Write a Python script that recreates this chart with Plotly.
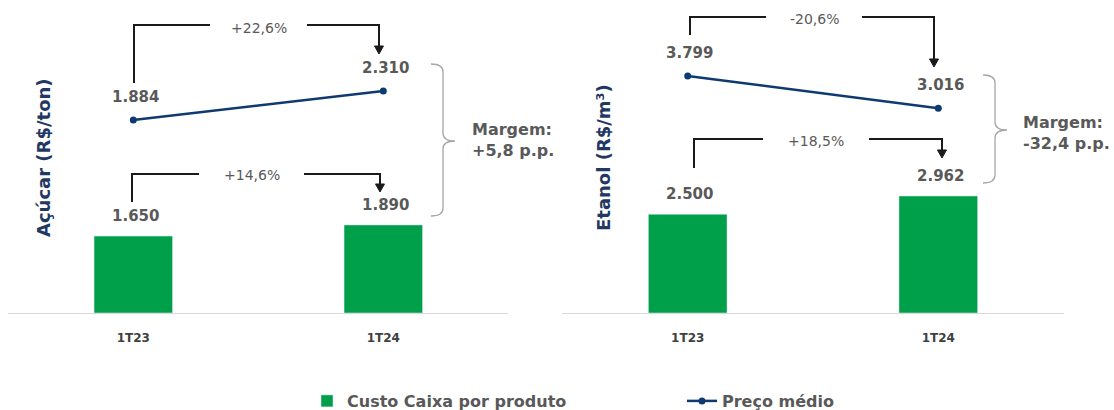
import plotly.graph_objects as go

# ---- data ----
periods = ["1T23", "1T24"]
acucar_custo = [1650, 1890]
acucar_preco = [1884, 2310]
etanol_custo = [2500, 2962]
etanol_preco = [3799, 3016]

acucar_var_preco = "+22,6%"
acucar_var_custo = "+14,6%"
etanol_var_preco = "-20,6%"
etanol_var_custo = "+18,5%"
acucar_margem = "Margem:<br>+5,8 p.p."
etanol_margem = "Margem:<br>-32,4 p.p."

titulo_acucar = "Açúcar (R$/ton)"
titulo_etanol = "Etanol (R$/m³)"
legenda_custo = "Custo Caixa por produto"
legenda_preco = "Preço médio"

# ---- styling ----
W, H = 1114, 410
FONT = "DejaVu Sans"
GREEN = "#00A04A"
NAVY = "#0E3A70"
GRAY_TXT = "#595959"
AXIS_TITLE = "#1F3864"
BRACKET = "#1A1A1A"
BRACE = "#A6A6A6"


def px(x):
    return x / W


def py(y):
    return 1 - y / H


def fmt(v):
    return f"{v:,}".replace(",", ".")


def path(points):
    cmds = []
    for i, (x, y) in enumerate(points):
        cmds.append(("M" if i == 0 else "L") + f"{px(x):.5f},{py(y):.5f}")
    return " ".join(cmds)


fig = go.Figure()

# left panel: sugar
fig.add_trace(go.Bar(x=periods, y=acucar_custo, marker_color=GREEN, width=0.314,
                     name=legenda_custo, xaxis="x", yaxis="y", legendrank=1))
fig.add_trace(go.Scatter(x=periods, y=acucar_preco, mode="lines+markers",
                         line=dict(color=NAVY, width=2.5), marker=dict(size=7, color=NAVY),
                         name=legenda_preco, xaxis="x", yaxis="y2", legendrank=2))
# right panel: ethanol
fig.add_trace(go.Bar(x=periods, y=etanol_custo, marker_color=GREEN, width=0.314,
                     name=legenda_custo, xaxis="x2", yaxis="y3", showlegend=False))
fig.add_trace(go.Scatter(x=periods, y=etanol_preco, mode="lines+markers",
                         line=dict(color=NAVY, width=2.5), marker=dict(size=7, color=NAVY),
                         name=legenda_preco, xaxis="x2", yaxis="y4", showlegend=False))

ydom = [py(313), 1]
hidden_y = dict(visible=False, showgrid=False, zeroline=False, fixedrange=True)
xcommon = dict(type="category", range=[-0.5, 1.5], showgrid=False, zeroline=False,
               showline=True, linecolor="#D9D9D9", linewidth=1, ticks="",
               tickfont=dict(family=FONT, size=12, color="#404040", weight="bold"),
               ticklabelstandoff=14)

fig.update_layout(
    width=W, height=H,
    margin=dict(l=0, r=0, t=0, b=0, autoexpand=False),
    paper_bgcolor="white", plot_bgcolor="white",
    font=dict(family=FONT, color=GRAY_TXT),
    barmode="overlay",
    xaxis=dict(xcommon, domain=[px(8.3), px(508.3)], anchor="y"),
    xaxis2=dict(xcommon, domain=[px(562.4), px(1063.6)], anchor="y3"),
    yaxis=dict(hidden_y, domain=ydom, range=[0, 6717], anchor="x"),
    yaxis2=dict(hidden_y, domain=ydom, range=[-950, 3646], overlaying="y", anchor="x"),
    yaxis3=dict(hidden_y, domain=ydom, range=[0, 7924], anchor="x2"),
    yaxis4=dict(hidden_y, domain=ydom, range=[-1947, 5641], overlaying="y3", anchor="x2"),
    legend=dict(orientation="h", x=px(307), y=py(401), xanchor="left", yanchor="middle",
                entrywidth=330, font=dict(family=FONT, size=16, color=GRAY_TXT, weight="bold"),
                bgcolor="rgba(0,0,0,0)"),
)

annotations = []

# value labels
def value_labels(xref, yref, values, shift):
    for cat, v in zip(periods, values):
        annotations.append(dict(x=cat, y=v, xref=xref, yref=yref, text=fmt(v),
                                showarrow=False, xanchor="center", yanchor="bottom",
                                yshift=shift, xshift=2,
                                font=dict(family=FONT, size=15, color=GRAY_TXT, weight="bold")))

value_labels("x", "y", acucar_custo, 9)
value_labels("x", "y2", acucar_preco, 12)
value_labels("x2", "y3", etanol_custo, 9)
value_labels("x2", "y4", etanol_preco, 12)

shapes = []

# variation brackets with arrows
def bracket(x0, y0, ytop, xgap0, xgap1, x1, ytip, label, lx, ly):
    shapes.append(dict(type="path", xref="paper", yref="paper",
                       path=path([(x0, y0), (x0, ytop), (xgap0, ytop)]),
                       line=dict(color=BRACKET, width=2)))
    shapes.append(dict(type="path", xref="paper", yref="paper",
                       path=path([(xgap1, ytop), (x1, ytop), (x1, ytip - 7)]),
                       line=dict(color=BRACKET, width=2)))
    shapes.append(dict(type="path", xref="paper", yref="paper",
                       path=path([(x1 - 4.5, ytip - 8), (x1 + 4.5, ytip - 8), (x1, ytip)]) + " Z",
                       fillcolor=BRACKET, line=dict(color=BRACKET, width=1)))
    annotations.append(dict(x=px(lx), y=py(ly), xref="paper", yref="paper", text=label,
                            showarrow=False, xanchor="center", yanchor="middle",
                            font=dict(family=FONT, size=14, color=GRAY_TXT)))

bracket(134, 83, 25, 210, 307, 379, 54, acucar_var_preco, 259, 28)
bracket(132, 202, 174, 199, 304, 380, 192, acucar_var_custo, 252, 175)
bracket(690, 35, 17, 766, 862, 934, 67, etanol_var_preco, 815, 19)
bracket(694, 168, 139, 763, 869, 942, 158, etanol_var_custo, 816, 141)

# curly braces for margin
def brace(xa, xb, xt, ytop, ybot, ymid):
    r = 8
    p = (f"M{px(xa):.5f},{py(ytop):.5f} Q{px(xb):.5f},{py(ytop):.5f} {px(xb):.5f},{py(ytop + r):.5f} "
         f"L{px(xb):.5f},{py(ymid - r):.5f} Q{px(xb):.5f},{py(ymid):.5f} {px(xt):.5f},{py(ymid):.5f} "
         f"Q{px(xb):.5f},{py(ymid):.5f} {px(xb):.5f},{py(ymid + r):.5f} "
         f"L{px(xb):.5f},{py(ybot - r):.5f} Q{px(xb):.5f},{py(ybot):.5f} {px(xa):.5f},{py(ybot):.5f}")
    shapes.append(dict(type="path", xref="paper", yref="paper", path=p,
                       line=dict(color=BRACE, width=1.3)))

brace(431, 443, 455, 64, 216, 141)
brace(983, 995, 1007, 75, 183, 130)

for text, x, y in [(acucar_margem, 470, 140), (etanol_margem, 1021, 133)]:
    annotations.append(dict(x=px(x), y=py(y), xref="paper", yref="paper", text=text,
                            showarrow=False, xanchor="left", yanchor="middle", align="left",
                            font=dict(family=FONT, size=16, color=GRAY_TXT, weight="bold")))

# axis titles
for text, x in [(titulo_acucar, 43), (titulo_etanol, 603)]:
    annotations.append(dict(x=px(x), y=py(158), xref="paper", yref="paper", text=text,
                            textangle=-90, showarrow=False, xanchor="center", yanchor="middle",
                            font=dict(family=FONT, size=18, color=AXIS_TITLE, weight="bold")))

fig.update_layout(annotations=annotations, shapes=shapes)

fig.write_html("out.html")
